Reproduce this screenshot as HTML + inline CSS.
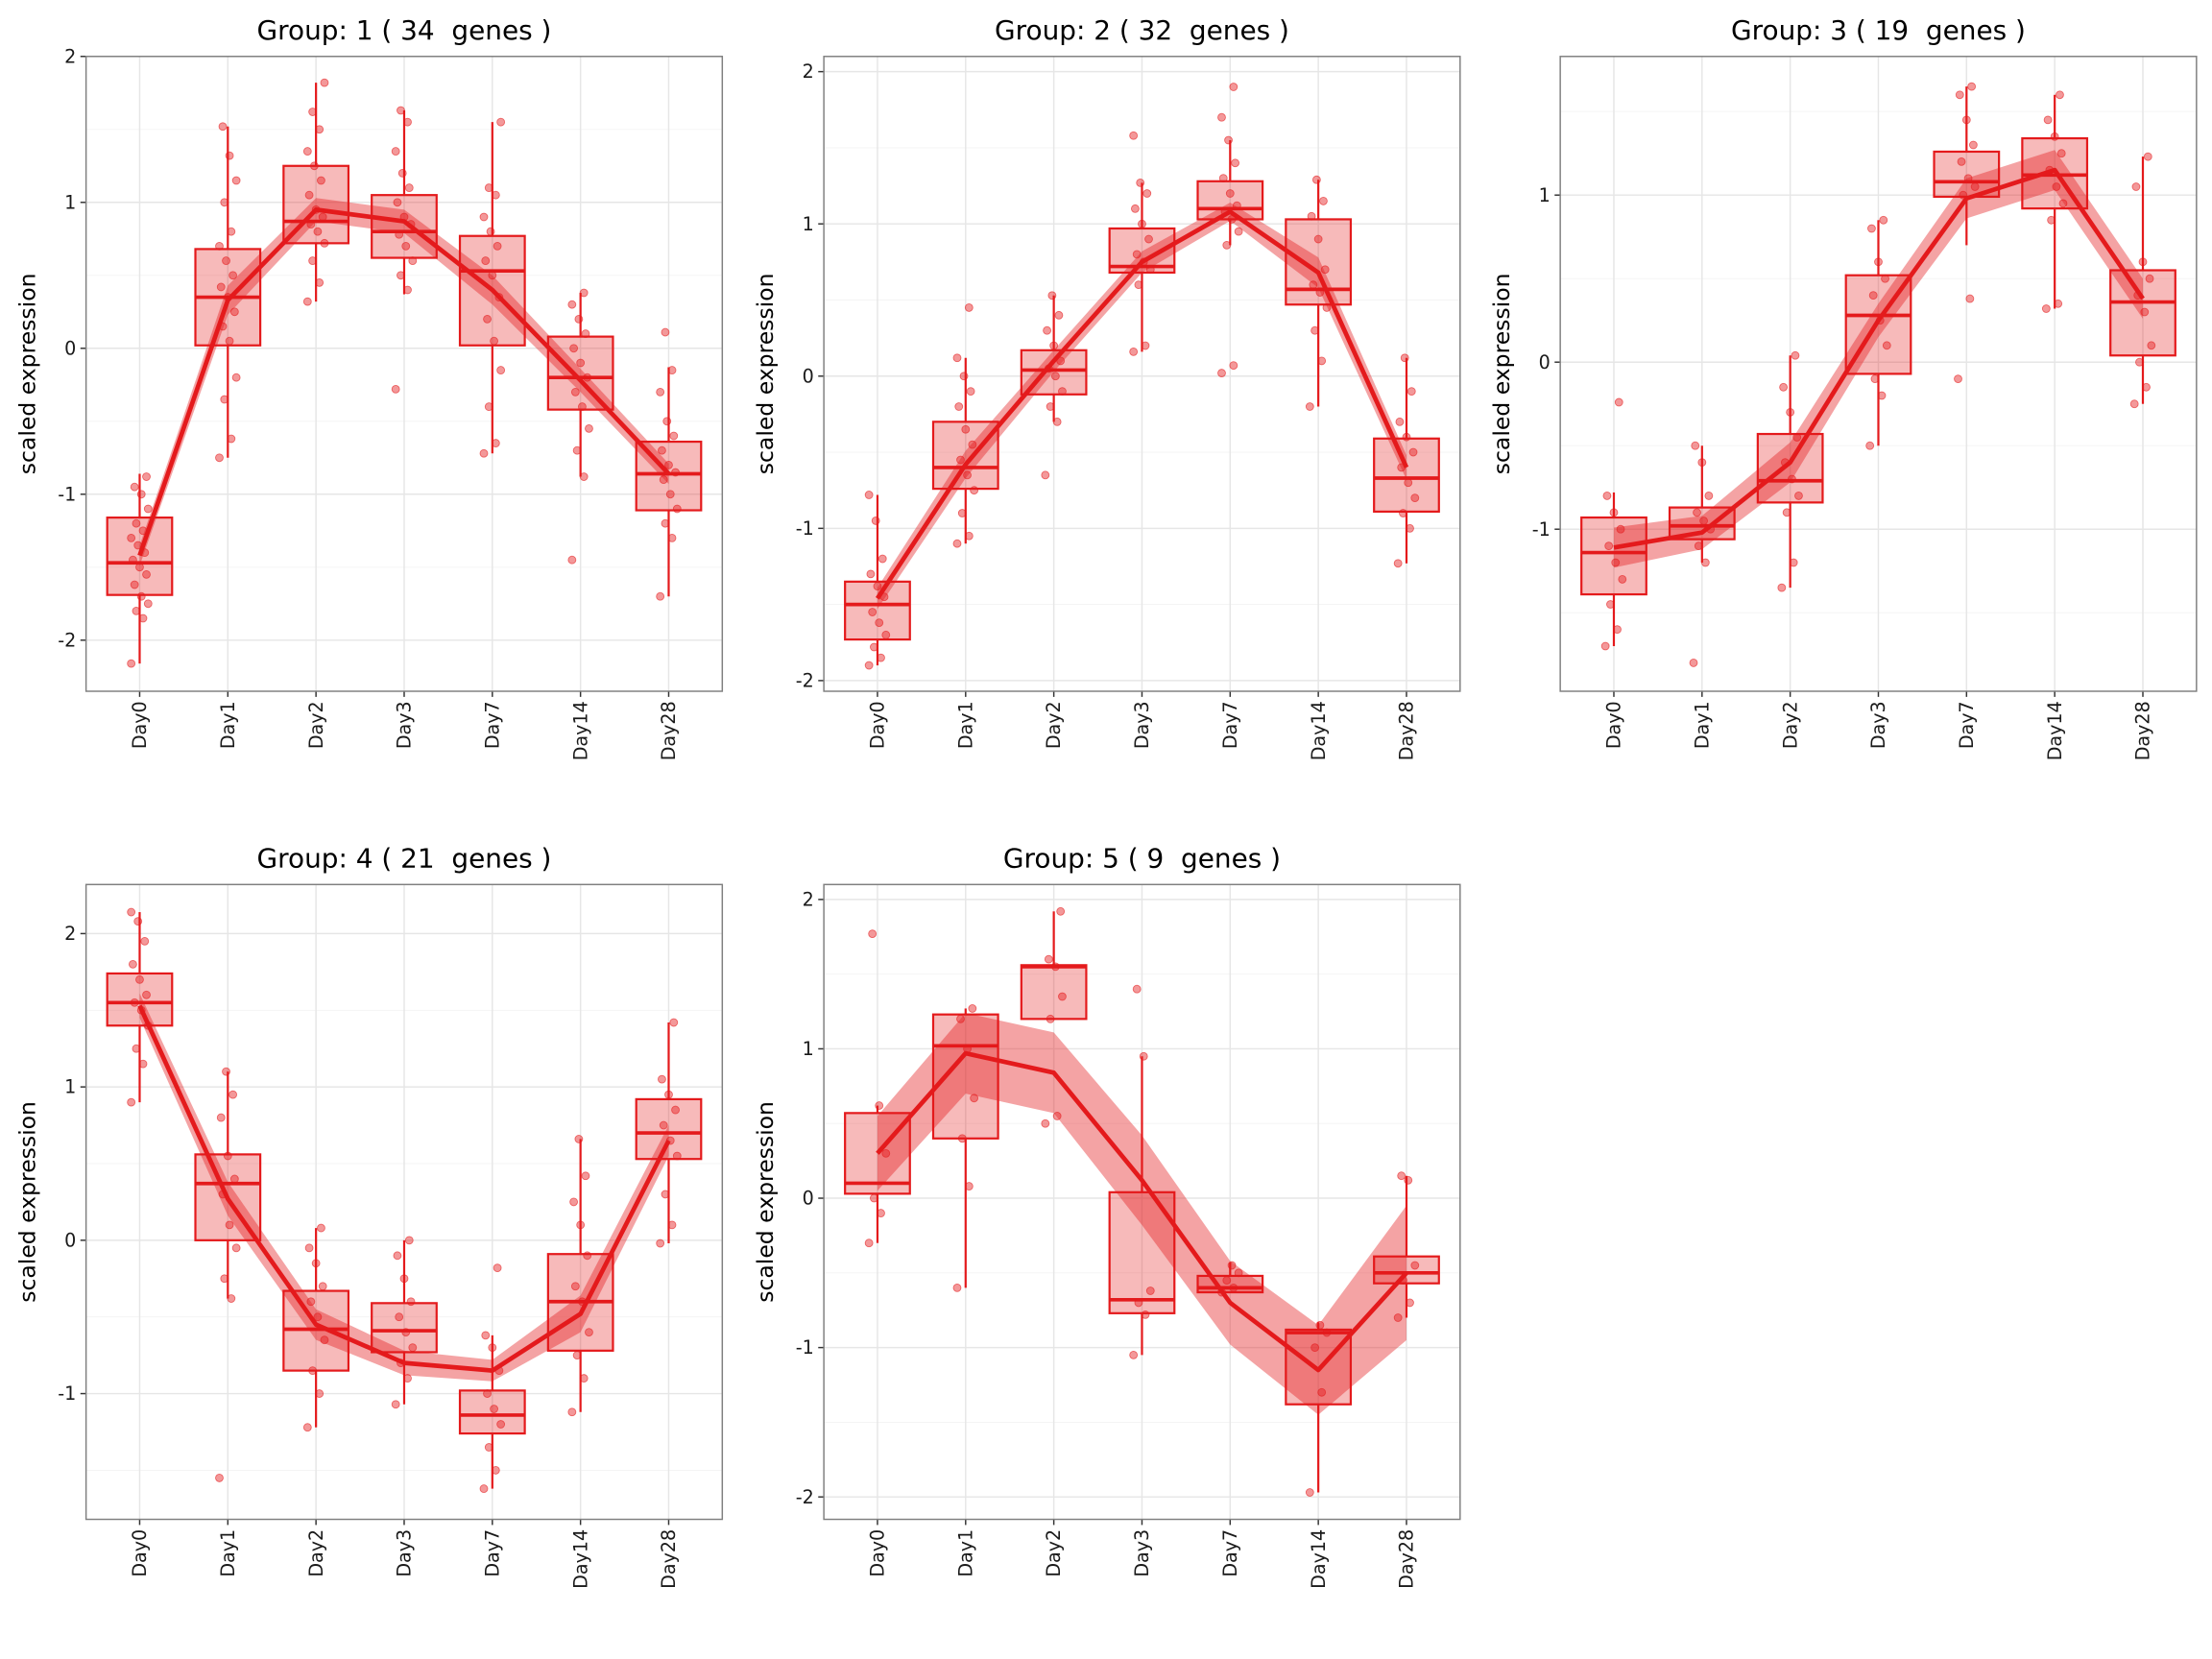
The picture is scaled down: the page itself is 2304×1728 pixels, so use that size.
<!DOCTYPE html>
<html><head><meta charset="utf-8"><style>
html,body{margin:0;padding:0;background:#fff;}
svg{display:block;font-family:"DejaVu Sans","Liberation Sans",sans-serif;}
text{white-space:pre;}
</style></head><body>
<svg id="chart" width="2304" height="1728" viewBox="0 0 1568 1176" xmlns="http://www.w3.org/2000/svg"></svg>
<script>
const categories = ["Day0","Day1","Day2","Day3","Day7","Day14","Day28"];
const groupTitles = ["Group: 1 ( 34  genes )","Group: 2 ( 32  genes )","Group: 3 ( 19  genes )","Group: 4 ( 21  genes )","Group: 5 ( 9  genes )"];
// box stats per group: [q1, median, q3, whiskerLo, whiskerHi] per category
const g1Box = [[-1.69,-1.47,-1.16,-2.16,-0.86],[0.02,0.35,0.68,-0.75,1.52],[0.72,0.87,1.25,0.32,1.82],[0.62,0.8,1.05,0.37,1.63],[0.02,0.53,0.77,-0.72,1.55],[-0.42,-0.2,0.08,-0.88,0.38],[-1.11,-0.86,-0.64,-1.7,-0.13]];
const g2Box = [[-1.73,-1.5,-1.35,-1.9,-0.78],[-0.74,-0.6,-0.3,-1.1,0.12],[-0.12,0.04,0.17,-0.3,0.53],[0.68,0.72,0.97,0.16,1.27],[1.03,1.1,1.28,0.86,1.55],[0.47,0.57,1.03,-0.2,1.29],[-0.89,-0.67,-0.41,-1.23,0.12]];
const g3Box = [[-1.39,-1.14,-0.93,-1.7,-0.78],[-1.06,-0.98,-0.87,-1.2,-0.5],[-0.84,-0.71,-0.43,-1.35,0.04],[-0.07,0.28,0.52,-0.5,0.85],[0.99,1.08,1.26,0.7,1.65],[0.92,1.12,1.34,0.32,1.6],[0.04,0.36,0.55,-0.25,1.23]];
const g4Box = [[1.4,1.55,1.74,0.9,2.14],[0.0,0.37,0.56,-0.38,1.1],[-0.85,-0.58,-0.33,-1.22,0.08],[-0.73,-0.59,-0.41,-1.07,0.0],[-1.26,-1.14,-0.98,-1.62,-0.62],[-0.72,-0.4,-0.09,-1.12,0.66],[0.53,0.7,0.92,-0.02,1.42]];
const g5Box = [[0.03,0.1,0.57,-0.3,0.62],[0.4,1.02,1.23,-0.6,1.27],[1.2,1.55,1.56,1.2,1.92],[-0.77,-0.68,0.04,-1.05,0.95],[-0.63,-0.6,-0.52,-0.63,-0.43],[-1.38,-0.9,-0.88,-1.97,-0.83],[-0.57,-0.5,-0.39,-0.8,0.15]];
// mean trend and ribbon half-width
const g1Mean = [-1.42,0.33,0.95,0.87,0.4,-0.22,-0.86];
const g1Se = [0.07,0.1,0.08,0.08,0.1,0.08,0.07];
const g2Mean = [-1.46,-0.58,0.1,0.75,1.08,0.68,-0.6];
const g2Se = [0.07,0.09,0.07,0.07,0.06,0.1,0.08];
const g3Mean = [-1.11,-1.02,-0.6,0.25,0.98,1.15,0.38];
const g3Se = [0.12,0.1,0.12,0.1,0.12,0.12,0.12];
const g4Mean = [1.53,0.27,-0.55,-0.8,-0.85,-0.48,0.65];
const g4Se = [0.08,0.11,0.1,0.08,0.07,0.12,0.1];
const g5Mean = [0.3,0.97,0.84,0.12,-0.7,-1.15,-0.5];
const g5Se = [0.25,0.27,0.27,0.3,0.28,0.3,0.45];
// individual gene points per category
const g1Pts = [[-2.16,-1.85,-1.8,-1.75,-1.7,-1.62,-1.55,-1.5,-1.45,-1.4,-1.35,-1.3,-1.25,-1.2,-1.1,-1.0,-0.95,-0.88],[-0.75,-0.62,-0.35,-0.2,0.05,0.15,0.25,0.35,0.42,0.5,0.6,0.7,0.8,1.0,1.15,1.32,1.52],[0.32,0.45,0.6,0.72,0.8,0.85,0.9,0.95,1.05,1.15,1.25,1.35,1.5,1.62,1.82],[-0.28,0.4,0.5,0.6,0.7,0.78,0.85,0.9,1.0,1.1,1.2,1.35,1.55,1.63],[-0.72,-0.65,-0.4,-0.15,0.05,0.2,0.35,0.5,0.6,0.7,0.8,0.9,1.05,1.1,1.55],[-1.45,-0.88,-0.7,-0.55,-0.4,-0.3,-0.2,-0.1,0,0.1,0.2,0.3,0.38],[-1.7,-1.3,-1.2,-1.1,-1.0,-0.9,-0.85,-0.8,-0.7,-0.6,-0.5,-0.3,-0.15,0.11]];
const g2Pts = [[-1.9,-1.85,-1.78,-1.7,-1.62,-1.55,-1.45,-1.38,-1.3,-1.2,-0.95,-0.78],[-1.1,-1.05,-0.9,-0.75,-0.65,-0.55,-0.45,-0.35,-0.2,-0.1,0.0,0.12,0.45],[-0.65,-0.3,-0.2,-0.1,0.0,0.05,0.1,0.2,0.3,0.4,0.53],[0.16,0.2,0.6,0.7,0.75,0.8,0.9,1.0,1.1,1.2,1.27,1.58],[0.02,0.07,0.86,0.95,1.03,1.08,1.12,1.2,1.3,1.4,1.55,1.7,1.9],[-0.2,0.1,0.3,0.45,0.55,0.6,0.7,0.9,1.05,1.15,1.29],[-1.23,-1.0,-0.9,-0.8,-0.7,-0.6,-0.5,-0.4,-0.3,-0.1,0.12]];
const g3Pts = [[-1.7,-1.6,-1.45,-1.3,-1.2,-1.1,-1.0,-0.9,-0.8,-0.24],[-1.8,-1.2,-1.1,-1.0,-0.95,-0.9,-0.8,-0.6,-0.5],[-1.35,-1.2,-0.9,-0.8,-0.7,-0.6,-0.45,-0.3,-0.15,0.04],[-0.5,-0.2,-0.1,0.1,0.25,0.4,0.5,0.6,0.8,0.85],[-0.1,0.38,1.0,1.05,1.1,1.2,1.3,1.45,1.6,1.65],[0.32,0.35,0.85,0.95,1.05,1.15,1.25,1.35,1.45,1.6],[-0.25,-0.15,0.0,0.1,0.3,0.4,0.5,0.6,1.05,1.23]];
const g4Pts = [[0.9,1.15,1.25,1.4,1.5,1.55,1.6,1.7,1.8,1.95,2.08,2.14],[-1.55,-0.38,-0.25,-0.05,0.1,0.3,0.4,0.55,0.8,0.95,1.1],[-1.22,-1.0,-0.85,-0.65,-0.5,-0.4,-0.3,-0.15,-0.05,0.08],[-1.07,-0.9,-0.8,-0.7,-0.6,-0.5,-0.4,-0.25,-0.1,0.0],[-1.62,-1.5,-1.35,-1.2,-1.1,-1.0,-0.85,-0.7,-0.62,-0.18],[-1.12,-0.9,-0.75,-0.6,-0.4,-0.3,-0.1,0.1,0.25,0.42,0.66],[-0.02,0.1,0.3,0.55,0.65,0.75,0.85,0.95,1.05,1.42]];
const g5Pts = [[-0.3,-0.1,0.0,0.3,0.62,1.77],[-0.6,0.08,0.4,0.67,1.0,1.2,1.27],[0.5,0.55,1.2,1.35,1.55,1.6,1.92],[-1.05,-0.78,-0.7,-0.62,0.95,1.4],[-0.63,-0.6,-0.55,-0.5,-0.45],[-1.97,-1.3,-1.0,-0.9,-0.85],[-0.8,-0.7,-0.55,-0.45,0.12,0.15]];
const groupsBox = [g1Box,g2Box,g3Box,g4Box,g5Box];
const groupsMean = [g1Mean,g2Mean,g3Mean,g4Mean,g5Mean];
const groupsSe = [g1Se,g2Se,g3Se,g4Se,g5Se];
const groupsPts = [g1Pts,g2Pts,g3Pts,g4Pts,g5Pts];
const yTicks = [[-2,-1,0,1,2],[-2,-1,0,1,2],[-1,0,1],[-1,0,1,2],[-2,-1,0,1,2]];
const yDomains = [[-2.35,2.0],[-2.07,2.1],[-1.97,1.83],[-1.82,2.32],[-2.15,2.1]];

// layout (pixels)
const panels = [{x:61,y:40},{x:584,y:40},{x:1106,y:40},{x:61,y:627},{x:584,y:627}];
const PW=451, PH=450;
const svg=document.getElementById('chart');
const NS='http://www.w3.org/2000/svg';
const RED='#e41a1c';
function el(tag,attrs,parent){const e=document.createElementNS(NS,tag);for(const k in attrs)e.setAttribute(k,attrs[k]);(parent||svg).appendChild(e);return e;}

panels.forEach((p,gi)=>{
  const g=el('g',{});
  
  
  const [dmin,dmax]=yDomains[gi];
  const yS=v=>p.y+PH-(v-dmin)/(dmax-dmin)*PH;
  const xS=i=>p.x+38+i*62.5;
  el('rect',{x:p.x,y:p.y,width:PW,height:PH,fill:'#fff'},g);
  for(let v=Math.ceil(dmin*2)/2;v<=dmax;v+=0.5){ if(Math.abs(v-Math.round(v))>0.01){el('line',{x1:p.x,x2:p.x+PW,y1:yS(v),y2:yS(v),stroke:'#f3f3f3','stroke-width':0.6},g);} }
  yTicks[gi].forEach(v=>{
    const l=el('line',{x1:p.x,x2:p.x+PW,y1:yS(v),y2:yS(v),stroke:'#e6e6e6','stroke-width':1},g);
    
    
    el('line',{x1:p.x-4,x2:p.x,y1:yS(v),y2:yS(v),stroke:'#333','stroke-width':1},g);
    const t=el('text',{x:p.x-7,y:yS(v)+4.5,'text-anchor':'end','font-size':13,fill:'#1a1a1a'},g);
    t.textContent=v;
    
    
  });
  categories.forEach((c,i)=>{
    el('line',{x1:xS(i),x2:xS(i),y1:p.y,y2:p.y+PH,stroke:'#e6e6e6','stroke-width':1},g);
    el('line',{x1:xS(i),x2:xS(i),y1:p.y+PH,y2:p.y+PH+4,stroke:'#333','stroke-width':1},g);
    const t=el('text',{x:0,y:0,transform:`translate(${xS(i)+4.5},${p.y+PH+7}) rotate(-90)`,'text-anchor':'end','font-size':13,fill:'#1a1a1a'},g);
    t.textContent=c;
    
    
  });
  groupsBox[gi].forEach((b,i)=>{
    const [q1,md,q3,lo,hi]=b, cx=xS(i);
    const wl=el('line',{x1:cx,x2:cx,y1:yS(lo),y2:yS(q1),stroke:RED,'stroke-width':1.5},g);
    
    
    const wh=el('line',{x1:cx,x2:cx,y1:yS(q3),y2:yS(hi),stroke:RED,'stroke-width':1.5},g);
    
    
    const r=el('rect',{x:cx-23,y:yS(q3),width:46,height:yS(q1)-yS(q3),fill:'rgba(228,26,28,0.3)',stroke:RED,'stroke-width':1.5},g);
    
    
    el('line',{x1:cx-23,x2:cx+23,y1:yS(md),y2:yS(md),stroke:RED,'stroke-width':2.5},g);
  });
  groupsPts[gi].forEach((arr,i)=>{
    arr.forEach((v,j)=>{
      const off=((j*7)%11-5)*1.2;
      const c=el('circle',{cx:xS(i)+off,cy:yS(v),r:2.7,fill:'rgba(228,26,28,0.45)',stroke:'rgba(228,26,28,0.6)','stroke-width':0.6},g);
      
      
    });
  });
  const m=groupsMean[gi], se=groupsSe[gi];
  let d='M'+m.map((v,i)=>xS(i)+','+yS(v+se[i])).join(' L');
  d+=' L'+m.map((v,i)=>xS(i)+','+yS(v-se[i])).reverse().join(' L')+' Z';
  const rb=el('path',{d:d,fill:'rgba(228,26,28,0.4)'},g);
  
  
  const ln=el('polyline',{points:m.map((v,i)=>xS(i)+','+yS(v)).join(' '),fill:'none',stroke:RED,'stroke-width':3.2,'stroke-linejoin':'round'},g);
  
  
  el('rect',{x:p.x,y:p.y,width:PW,height:PH,fill:'none',stroke:'#7f7f7f','stroke-width':1},g);
  const tt=el('text',{x:p.x+PW/2,y:p.y-12,'text-anchor':'middle','font-size':19,fill:'#000'},g);
  tt.textContent=groupTitles[gi];
  
  
  const yt=el('text',{x:0,y:0,transform:`translate(${p.x-36},${p.y+PH/2}) rotate(-90)`,'text-anchor':'middle','font-size':16,fill:'#000'},g);
  yt.textContent='scaled expression';
  
  
});
</script>
</body></html>
